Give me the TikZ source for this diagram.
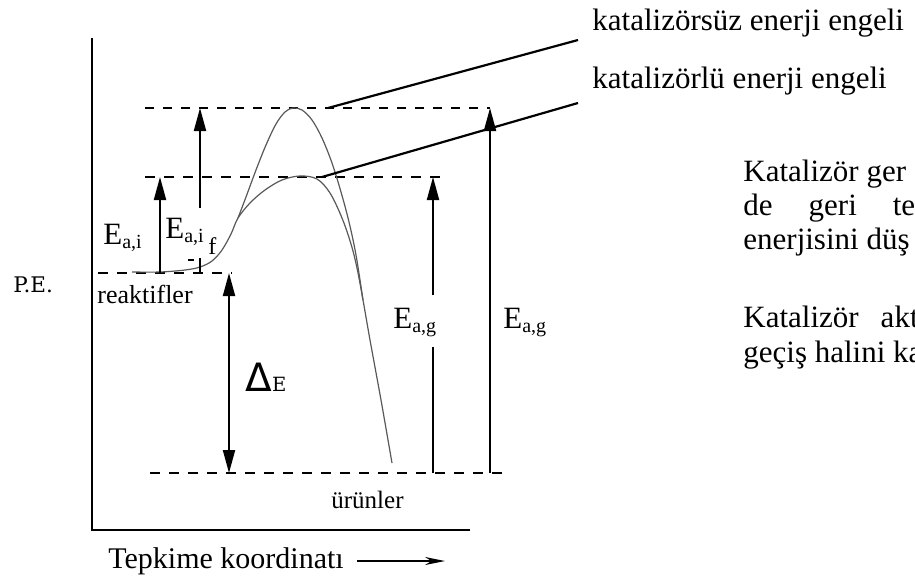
\documentclass[tikz,border=0pt]{standalone}
\usepackage{fontspec}
\setmainfont{Liberation Serif}
\newfontfamily\dvserif{DejaVu Serif}
\newfontfamily\dvsans{DejaVu Sans}
\usetikzlibrary{arrows.meta}
\tikzset{
  lbl/.style={inner sep=0pt, anchor=base west, font=\fontsize{15.5}{18}\selectfont},
  smalllbl/.style={inner sep=0pt, anchor=base west, font=\fontsize{13}{15}\selectfont},
  axisline/.style={line width=0.7pt},
  thickdash/.style={line width=1.1pt, dash pattern=on 5pt off 4.5pt},
  thindash/.style={line width=0.65pt, dash pattern=on 4.5pt off 4.5pt},
  energy/.style={line width=1pt, -{Triangle[length=11.5pt,width=6pt]}},
  energytwo/.style={line width=1pt, {Triangle[length=11.5pt,width=6pt]}-{Triangle[length=11.5pt,width=6pt]}},
  shaft/.style={line width=1pt},
  pecurve/.style={line width=0.6pt, draw=black!65},
  pointer/.style={line width=1.1pt},
}
\newcommand{\Esub}[1]{E\raisebox{-0.35ex}{\fontsize{10}{12}\selectfont #1}}
\begin{document}
\begin{tikzpicture}[x=0.5pt,y=-0.5pt]
\fill[white] (0,0) rectangle (915,579);
\useasboundingbox (0,0) rectangle (915,579);

% axes
\coordinate (ytop) at (92,38);
\coordinate (origin) at (92,530);
\coordinate (xend) at (470,530);
\draw[axisline] (ytop) -- (origin) -- (xend);

% dashed levels
\coordinate (topL) at (145,108);   \coordinate (topR) at (490,108);
\coordinate (midL) at (145,177);   \coordinate (midR) at (440,177);
\coordinate (reaL) at (98,273);    \coordinate (reaR) at (232,273);
\coordinate (proL) at (150,473);   \coordinate (proR) at (503,473);
\draw[thindash] (topL) -- (topR);
\draw[thickdash] (midL) -- (midR);
\draw[thickdash] (reaL) -- (reaR);
\draw[thickdash] (proL) -- (proR);

% curves
\draw[pecurve] plot[smooth, tension=0.55] coordinates {
 (132,272) (160,272) (185,270) (200,267) (212,261) (222,250) (231,234) (238,218)
 (250,203) (265,190) (282,180) (300,176) (317,179) (330,193) (342,218) (351,244)
 (357,268) (363,300) (370,340) (381,400) (392,463)};
\draw[pecurve] plot[smooth, tension=0.55] coordinates {
 (238,218) (246,197) (256,170) (266,145) (276,124) (285,112) (293,108) (302,110)
 (312,120) (322,138) (332,163) (341,192) (349,222) (356,255) (363,300)};

% pointer lines
\coordinate (p1a) at (328,108); \coordinate (p1b) at (578,40);
\coordinate (p2a) at (322,177); \coordinate (p2b) at (578,103);
\draw[pointer] (p1a) -- (p1b);
\draw[pointer] (p2a) -- (p2b);

% energy arrows
\coordinate (a1b) at (160,273); \coordinate (a1t) at (160,177);
\draw[energy] (a1b) -- (a1t);
\coordinate (a2b) at (200,273); \coordinate (a2m) at (200,258);
\coordinate (a2g) at (200,208); \coordinate (a2t) at (200,108);
\draw[shaft] (a2b) -- (a2m);
\draw[energy] (a2g) -- (a2t);
\draw[line width=0.6pt] (188,260) coordinate (tk1) -- (194,260) coordinate (tk2);
\coordinate (dEt) at (229,273); \coordinate (dEb) at (229,473);
\draw[energytwo] (dEb) -- (dEt);
\coordinate (a3b) at (433,473); \coordinate (a3m) at (433,347);
\coordinate (a3g) at (433,295); \coordinate (a3t) at (433,177);
\draw[shaft] (a3b) -- (a3m);
\draw[energy] (a3g) -- (a3t);
\coordinate (a4b) at (490,473); \coordinate (a4t) at (490,108);
\draw[energy] (a4b) -- (a4t);

% labels
\node[lbl] (eai1) at (103,244) {\Esub{a,i}};
\node[lbl] (eai2) at (165,238) {\Esub{a,i}};
\node[inner sep=0pt, anchor=base west, font=\fontsize{12}{14}\selectfont] (ff) at (208,254) {f};
\node[lbl] (eag1) at (393,328) {\Esub{a,g}};
\node[lbl] (eag2) at (503,328) {\Esub{a,g}};
\node[inner sep=0pt, anchor=base west] (de) at (245,391)
  {{\dvsans\fontsize{19.5}{21}\selectfont Δ}{\dvserif\fontsize{9.8}{12}\selectfont E}};
\node[inner sep=0pt, anchor=base west, font=\dvserif\fontsize{10.75}{12}\selectfont] (pe) at (13,292) {P.E.};
\node[smalllbl] (reak) at (97,303) {reaktifler};
\node[inner sep=0pt, anchor=base west, font=\fontsize{12.5}{14}\selectfont] (urun) at (331,508) {ürünler};
\node[inner sep=0pt, anchor=base west, font=\fontsize{15}{18}\selectfont] (tep) at (108,568) {Tepkime koordinatı};
\coordinate (tarrA) at (357,561); \coordinate (tarrB) at (445,561);
\draw[line width=0.65pt, -{Stealth[length=10pt,width=4pt]}] (tarrA) -- (tarrB);

\node[lbl] (kz) at (592,30) {katalizörsüz enerji engeli};
\node[lbl] (kl) at (592,88) {katalizörlü enerji engeli};

\begin{scope}
\clip (0,0) rectangle (915,579);
\node[lbl] (t1) at (743,181) {Katalizör ger};
\node[lbl] (t2) at (743,215) {de\hspace{18pt}geri\hspace{18pt}te};
\node[lbl] (t3) at (743,249) {enerjisini düş};
\node[lbl] (t4) at (743,327) {Katalizör\hspace{11pt}akt};
\node[lbl] (t5) at (743,362) {geçiş halini ka};
\end{scope}
\end{tikzpicture}
\end{document}
